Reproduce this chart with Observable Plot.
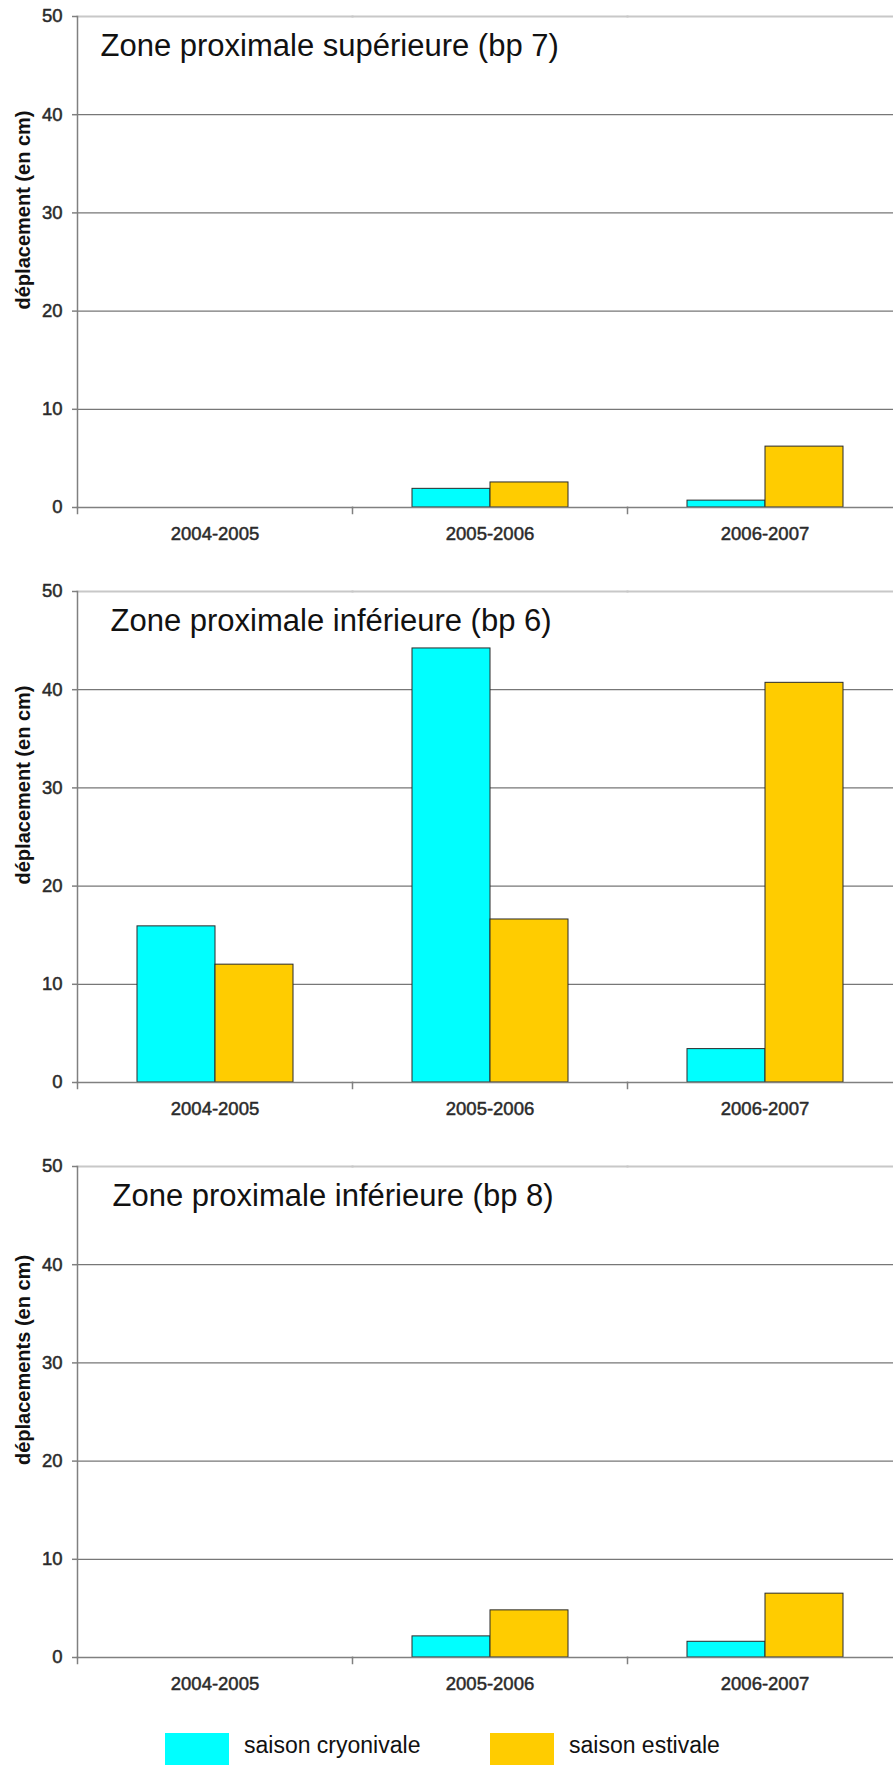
<!DOCTYPE html>
<html><head><meta charset="utf-8">
<script src="https://cdn.jsdelivr.net/npm/d3@7"></script>
<script src="https://cdn.jsdelivr.net/npm/@observablehq/plot@0.6"></script>
<style>
html,body{margin:0;padding:0;background:#fff;overflow:hidden;}
body{font-family:"Liberation Sans",Arial,sans-serif;width:893px;height:1765px;}
.panel{width:902px;height:575px;overflow:visible}
.panel svg{display:block;max-width:none !important;width:902px;height:575px}
#legend{display:flex;margin-top:8px;margin-left:165px;}
.item{display:flex;align-items:flex-start;}
.sw{width:64px;height:40px;}
.lab{font-size:23px;line-height:23px;margin-left:15px;color:#111;padding-top:1px;white-space:nowrap}
</style></head><body>
<div id="charts"></div><div id="legend"></div>
<script>
const years = ["2004-2005", "2005-2006", "2006-2007"];
const seriesNames = ["saison cryonivale", "saison estivale"];
const seriesColors = ["#00FFFF", "#FFCC00"];
const yTicks = [0, 10, 20, 30, 40, 50];
const panelTitles = [
  "Zone proximale supérieure (bp 7)",
  "Zone proximale inférieure (bp 6)",
  "Zone proximale inférieure (bp 8)"
];
const yLabels = ["déplacement (en cm)", "déplacement (en cm)", "déplacements (en cm)"];
const bp7Cryo = [null, 1.9, 0.7];
const bp7Esti = [null, 2.55, 6.2];
const bp6Cryo = [15.9, 44.2, 3.4];
const bp6Esti = [12.0, 16.6, 40.7];
const bp8Cryo = [null, 2.15, 1.6];
const bp8Esti = [null, 4.8, 6.5];

const panels = [
  {title: panelTitles[0], ylabel: yLabels[0], cryo: bp7Cryo, esti: bp7Esti, dx: 23},
  {title: panelTitles[1], ylabel: yLabels[1], cryo: bp6Cryo, esti: bp6Esti, dx: 33},
  {title: panelTitles[2], ylabel: yLabels[2], cryo: bp8Cryo, esti: bp8Esti, dx: 35}
];

const W = 902, H = 575, MT = 16, MB = 68, ML = 77;
const innerH = H - MT - MB;
const FONT = '"Liberation Sans", Arial, sans-serif';

function makePanel(p) {
  const rows = [];
  years.forEach((yr, j) => {
    rows.push({year: yr, series: seriesNames[0], value: p.cryo[j]});
    rows.push({year: yr, series: seriesNames[1], value: p.esti[j]});
  });
  return Plot.plot({
    width: W, height: H, marginLeft: ML, marginRight: 0, marginTop: MT, marginBottom: MB,
    style: {fontFamily: FONT, background: "white", overflow: "visible", color: "#222", maxWidth: "none"},
    fx: {domain: years, padding: 0, label: null},
    x: {domain: seriesNames, paddingInner: 0, paddingOuter: 0.75, axis: null},
    y: {domain: [0, 50], label: null},
    color: {domain: seriesNames, range: seriesColors},
    marks: [
      Plot.gridY(yTicks.filter(t => t > 0 && t < 50), {stroke: "#777", strokeOpacity: 1, strokeWidth: 1.3}),
      Plot.frame({anchor: "top", stroke: "#c8c8c8", strokeWidth: 2}),
      Plot.barY(rows.filter(d => d.value != null), {fx: "year", x: "series", y: "value", fill: "series", stroke: "#2a2a2a", strokeWidth: 1}),
      Plot.frame({anchor: "bottom", stroke: "#808080", strokeWidth: 1.5}),
      Plot.frame({anchor: "left", insetTop: innerH, insetBottom: -6, stroke: "#808080", strokeWidth: 1.5}),
      Plot.frame({anchor: "left", facetAnchor: "left", stroke: "#808080", strokeWidth: 1.5}),
      Plot.axisY({ticks: yTicks, tickSize: 5, tickPadding: 10, fontSize: 18.5, label: null, stroke: "#808080", strokeWidth: 1.5, fill: "#2a2a2a", textStroke: "#2a2a2a", textStrokeWidth: 0.5, textStrokeOpacity: 1}),
      Plot.axisFx({anchor: "bottom", tickSize: 0, tickPadding: 19, fontSize: 18.5, label: null, fill: "#2a2a2a", textStroke: "#2a2a2a", textStrokeWidth: 0.5, textStrokeOpacity: 1}),
      Plot.text([{year: years[0], t: p.title}], {fx: "year", text: "t", frameAnchor: "top-left", dx: p.dx, dy: 17, textAnchor: "start", lineAnchor: "top", fontSize: 31, fill: "#111"}),
      Plot.text([{year: years[0], t: p.ylabel}], {fx: "year", text: "t", frameAnchor: "left", rotate: -90, dx: -54, dy: -52, fontSize: 20, fontWeight: "bold", fill: "#111", textAnchor: "middle", lineAnchor: "middle"})
    ]
  });
}

const charts = document.getElementById("charts");
panels.forEach(p => {
  const d = document.createElement("div");
  d.className = "panel";
  d.appendChild(makePanel(p));
  charts.appendChild(d);
});

const legend = document.getElementById("legend");
seriesNames.forEach((name, i) => {
  const item = document.createElement("div");
  item.className = "item";
  if (i === 0) item.style.width = "325px";
  const sw = document.createElement("div");
  sw.className = "sw";
  sw.style.background = seriesColors[i];
  const lab = document.createElement("div");
  lab.className = "lab";
  lab.textContent = name;
  item.appendChild(sw);
  item.appendChild(lab);
  legend.appendChild(item);
});
</script>
</body></html>
